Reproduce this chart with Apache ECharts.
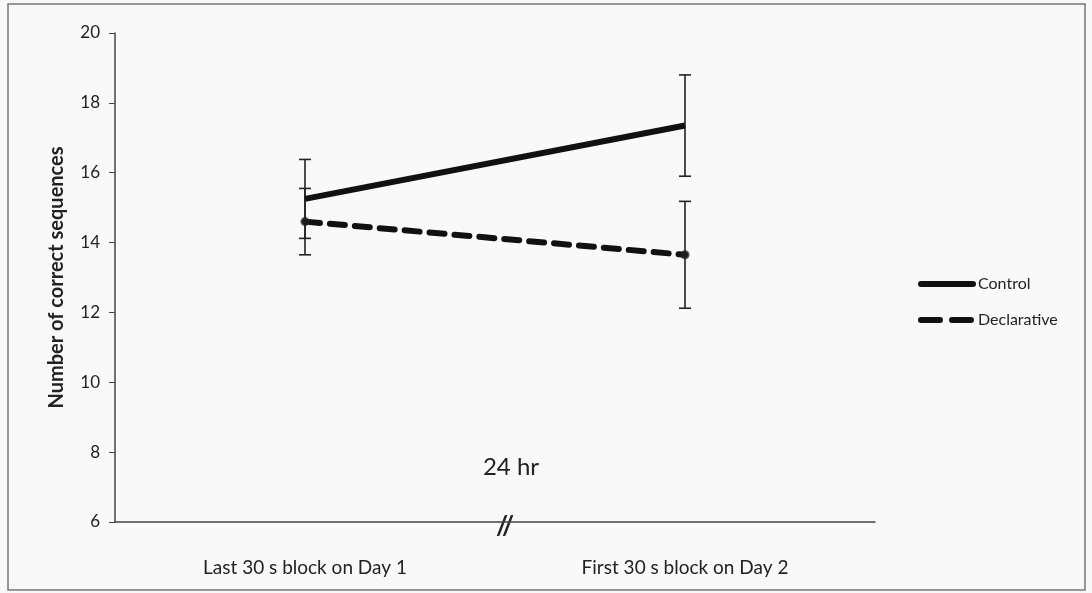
<!DOCTYPE html>
<html>
<head>
<meta charset="utf-8">
<script src="https://cdn.jsdelivr.net/npm/echarts@6/dist/echarts.min.js"></script>
<style>
    html, body { margin: 0; padding: 0; background: #f9f9f9; }
    #chart { width: 1092px; height: 593px; }
</style>
</head>
<body>
<div id="chart"></div>
<script>
    // 数据
    const categories = ['Last 30 s block on Day 1', 'First 30 s block on Day 2']
    const controlMean = [15.25, 17.35]
    const controlErr = [1.13, 1.45]
    const declarativeMean = [14.6, 13.65]
    const declarativeErr = [0.95, 1.53]
    const yTicks = [6, 8, 10, 12, 14, 16, 18, 20]

    const font = 'Lato, "Open Sans", sans-serif'
    const chart = echarts.init(document.getElementById('chart'))

    function errData(mean, err) {
        return mean.map((m, i) => [i, m - err[i], m + err[i]])
    }

    function renderErr(params, api) {
        const x = api.value(0)
        const lo = api.coord([x, api.value(1)])
        const hi = api.coord([x, api.value(2)])
        const w = 6
        const style = { stroke: '#222', lineWidth: 1.6 }
        return {
            type: 'group',
            children: [
                { type: 'line', shape: { x1: lo[0], y1: lo[1], x2: hi[0], y2: hi[1] }, style },
                { type: 'line', shape: { x1: hi[0] - w, y1: hi[1], x2: hi[0] + w, y2: hi[1] }, style },
                { type: 'line', shape: { x1: lo[0] - w, y1: lo[1], x2: lo[0] + w, y2: lo[1] }, style }
            ]
        }
    }

    const option = {
        backgroundColor: '#f9f9f9',
        animation: false,
        grid: { left: 115, right: 217, top: 33, bottom: 71 },
        legend: {
            orient: 'vertical',
            left: 913,
            top: 271,
            itemGap: 20,
            itemWidth: 52,
            itemHeight: 14,
            itemStyle: { opacity: 0 },
            lineStyle: { width: 6, color: '#111', cap: 'round' },
            data: [
                { name: 'Control' },
                { name: 'Declarative', lineStyle: { type: [19, 12] } }
            ],
            textStyle: { fontFamily: font, fontSize: 16, color: '#222' }
        },
        xAxis: {
            type: 'category',
            data: categories,
            axisTick: { show: false },
            axisLine: { lineStyle: { color: '#444', width: 1.5 } },
            axisLabel: { fontFamily: font, fontSize: 19, color: '#222', margin: 36 }
        },
        yAxis: {
            type: 'value',
            min: yTicks[0],
            max: yTicks[yTicks.length - 1],
            interval: 2,
            name: 'Number of correct sequences',
            nameLocation: 'middle',
            nameGap: 48,
            nameTextStyle: { fontFamily: font, fontSize: 20, fontWeight: 'bold', color: '#222' },
            splitLine: { show: false },
            axisLine: { show: true, lineStyle: { color: '#444', width: 1.5 } },
            axisTick: { show: true, length: 6, lineStyle: { color: '#444' } },
            axisLabel: { fontFamily: font, fontSize: 17, color: '#222', margin: 15 }
        },
        series: [
            {
                name: 'Control',
                type: 'line',
                data: controlMean,
                symbol: 'none',
                lineStyle: { color: '#111', width: 6 },
                itemStyle: { color: '#111' },
                z: 3
            },
            {
                name: 'Declarative',
                type: 'line',
                data: declarativeMean,
                symbol: 'none',
                lineStyle: { color: '#111', width: 6, type: [15, 10], cap: 'round' },
                itemStyle: { color: '#111' },
                z: 3
            },
            {
                type: 'scatter',
                data: declarativeMean,
                symbolSize: 9,
                itemStyle: { color: '#222' },
                z: 4
            },
            {
                type: 'custom',
                data: errData(controlMean, controlErr),
                renderItem: renderErr,
                z: 2
            },
            {
                type: 'custom',
                data: errData(declarativeMean, declarativeErr),
                renderItem: renderErr,
                z: 2
            }
        ],
        graphic: [
            {
                type: 'rect',
                shape: { x: 8, y: 4, width: 1077, height: 586 },
                style: { fill: 'none', stroke: '#777', lineWidth: 1.5 },
                silent: true
            },
            {
                type: 'text',
                x: 511, y: 467,
                style: { text: '24 hr', fontFamily: font, fontSize: 24, fill: '#222', align: 'center', verticalAlign: 'middle' }
            },
            {
                type: 'text',
                x: 505, y: 527,
                style: { text: '//', fontFamily: font, fontSize: 26, fontWeight: 'bold', fill: '#222', align: 'center', verticalAlign: 'middle' }
            }
        ]
    }

    option && chart.setOption(option)
    window.addEventListener('resize', () => {
        chart.resize()
    })
</script>
</body>
</html>
